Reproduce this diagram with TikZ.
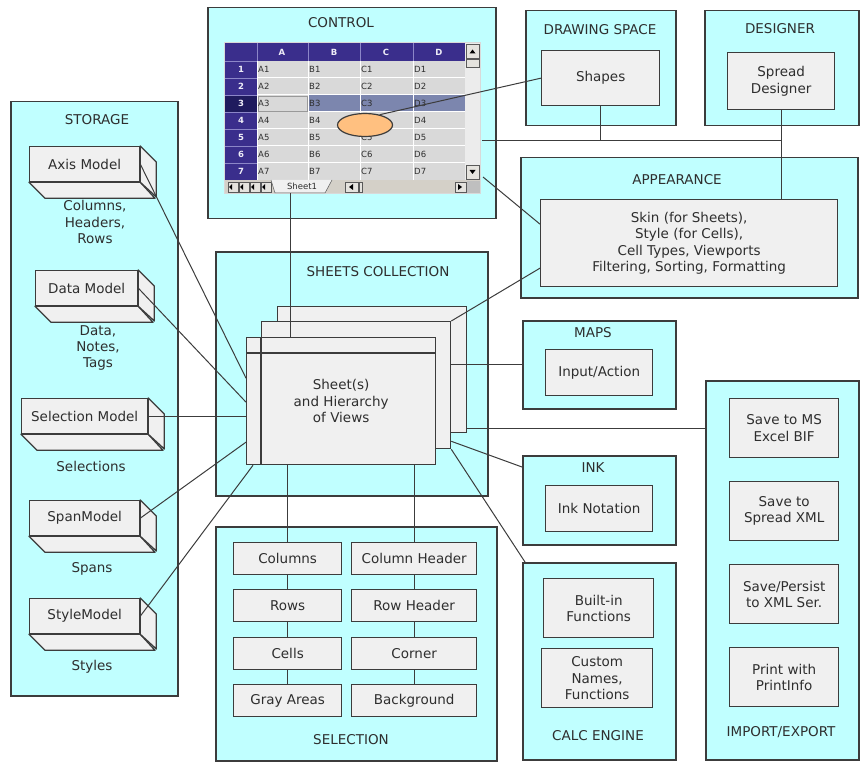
\documentclass[tikz,border=0pt]{standalone}
\usepackage{fontspec}
\setmainfont{DejaVu Sans}
\usetikzlibrary{shapes.geometric}

\definecolor{aqua}{HTML}{C0FFFF}
\definecolor{boxgray}{HTML}{F0F0F0}
\definecolor{edge}{HTML}{3C3C3C}
\definecolor{ink}{HTML}{2E2E2E}
\definecolor{hdrblue}{HTML}{3A2E8C}
\definecolor{hdrdark}{HTML}{1F1B5E}
\definecolor{hdrline}{HTML}{8C86C8}
\definecolor{cellgray}{HTML}{D9D9D9}
\definecolor{selblue}{HTML}{7C86AE}
\definecolor{tabgray}{HTML}{D4D0C8}
\definecolor{peach}{HTML}{FFC080}

\newcommand{\mainsize}{\fontsize{13.5}{16.3}\selectfont}
\newcommand{\cellsize}{\fontsize{8.5}{9}\selectfont}

% a model box with its bottom and right side
\newcommand{\modelbox}[5]{%
  \node[item, minimum width=#4, minimum height=35] (#1) at (#2,#3) {#5};
  \draw[itemside] (#1.south west) -- ++(16,16) -- ++(#4,0) -- (#1.south east) -- cycle;
  \draw[itemside] (#1.north east) -- ++(16,16) -- ++(0,35) -- (#1.south east) -- cycle;
}

\tikzset{
  panel/.style={draw=edge, line width=1.5pt, fill=aqua, anchor=north west, inner sep=0pt},
  item/.style={draw=edge, line width=1.3pt, fill=boxgray, anchor=north west,
    inner sep=0pt, align=center, text=ink, font=\mainsize},
  itemside/.style={draw=edge, line width=1.3pt, fill=boxgray, line join=round},
  sheet/.style={draw=edge, line width=1.3pt, fill=boxgray, anchor=north west,
    inner sep=0pt, align=center, text=ink, font=\mainsize},
  title/.style={text=ink, font=\mainsize},
  note/.style={text=ink, font=\mainsize, align=center},
  link/.style={draw=edge, line width=1pt},
  cell/.style={text=ink, font=\cellsize, anchor=west, inner sep=1pt},
  head/.style={text=white!85!hdrline, font=\cellsize\bfseries},
  btn/.style={draw=gray!70!black, fill=tabgray!60!white, line width=0.5pt},
  blob/.style={ellipse, draw=edge, line width=1.2pt, fill=peach,
    minimum width=55, minimum height=23},
}

\begin{document}
\begin{tikzpicture}[x=1pt, y=-1pt]
\useasboundingbox (0,0) rectangle (866,767);

% panels
\node[panel, minimum width=167, minimum height=594] (storage) at (10,101) {};
\node[panel, minimum width=288, minimum height=211] (control) at (207,7) {};
\node[panel, minimum width=150, minimum height=115] (drawing) at (525,10) {};
\node[panel, minimum width=154, minimum height=115] (designer) at (704,10) {};
\node[panel, minimum width=337, minimum height=140] (appear) at (520,157) {};
\node[panel, minimum width=272, minimum height=244] (sheets) at (215,251) {};
\node[panel, minimum width=153, minimum height=88] (maps) at (522,320) {};
\node[panel, minimum width=153, minimum height=89] (inkp) at (522,455) {};
\node[panel, minimum width=153, minimum height=197] (calc) at (522,562) {};
\node[panel, minimum width=153, minimum height=379] (io) at (705,380) {};
\node[panel, minimum width=281, minimum height=234] (selection) at (215,526) {};

\node[title] (storage-t) at (97,120) {STORAGE};
\node[title] (control-t) at (341,23) {CONTROL};
\node[title] (drawing-t) at (600,30) {DRAWING SPACE};
\node[title] (designer-t) at (780,29) {DESIGNER};
\node[title] (appear-t) at (677,180) {APPEARANCE};
\node[title] (sheets-t) at (378,272) {SHEETS COLLECTION};
\node[title] (maps-t) at (593,333) {MAPS};
\node[title] (inkp-t) at (593,468) {INK};
\node[title] (calc-t) at (598,736) {CALC ENGINE};
\node[title] (io-t) at (781,732) {IMPORT/EXPORT};
\node[title] (selection-t) at (351,740) {SELECTION};

% spreadsheet in the control
\fill[cellgray] (224,42) rectangle (481,194);
\fill[hdrblue] (225,43) rectangle (465,61);
\fill[hdrblue] (225,61) rectangle (257,180);
\fill[hdrdark] (225,95) rectangle (257,112);
\fill[selblue] (308,95) rectangle (465,112);
\foreach \x in {308,360,413}
  \draw[white, line width=1pt] (\x,61) -- (\x,180);
\draw[white, line width=1pt] (257,61) -- (257,180);
\foreach \y in {78,95,...,163}
  \draw[white, line width=1pt] (257,\y) -- (465,\y);
\foreach \x in {257,308,360,413}
  \draw[hdrline, line width=0.8pt] (\x,43) -- (\x,61);
\foreach \y in {61,78,...,163}
  \draw[hdrline, line width=0.8pt] (225,\y) -- (257,\y);
\draw[gray!80, line width=0.6pt] (258,96) rectangle (307,111);
\foreach \c/\x in {A/282,B/334,C/386,D/439}
  \node[head] at (\x,52) {\c};
\foreach \r in {1,...,7}
  \node[head] at (241,{52.5+17*\r}) {\r};
\foreach \c/\x in {A/257,B/308,C/360,D/413}
  \foreach \r in {1,...,7}
    \node[cell] at (\x,{52.5+17*\r}) {\c\r};
% scroll bars and sheet tab
\fill[gray!15] (465,43) rectangle (480,180);
\draw[btn] (466,44) rectangle (479,58);
\fill[black] (469.5,53.5) -- (475.5,53.5) -- (472.5,49.5) -- cycle;
\draw[btn] (466,59) rectangle (479,67);
\draw[btn] (466,165) rectangle (479,179);
\fill[black] (469.5,170) -- (475.5,170) -- (472.5,174) -- cycle;
\fill[tabgray] (225,180) rectangle (480,193);
\foreach \x in {228,239,250,261}
  \draw[btn] (\x,182) rectangle ++(10,10);
\foreach \x in {230,241,252,263}
  \fill[black] (\x,187) ++(2,-3) -- ++(-3,3) -- ++(3,3) -- cycle;
\filldraw[fill=boxgray, draw=gray!70!black, line width=0.5pt]
  (271,180) -- (275,193) -- (325,193) -- (332,180);
\node[cell, anchor=center] (tab) at (302,186.5) {Sheet1};
\draw[btn] (345,182) rectangle (358,192);
\fill[black] (349,187) -- (353,184) -- (353,190) -- cycle;
\draw[btn] (359,182) rectangle (362,192);
\draw[btn] (455,182) rectangle (466,192);
\fill[black] (462,187) -- (458,184) -- (458,190) -- cycle;
\fill[gray!50] (467,181) rectangle (480,193);
\node[blob] (blob) at (365,125) {};

% boxes
\node[item, minimum width=118, minimum height=55] (shapes) at (541,50) {Shapes};
\node[item, minimum width=107, minimum height=57] (sdes) at (727,52) {Spread\\Designer};
\node[item, minimum width=297, minimum height=87] (skin) at (540,199)
  {Skin (for Sheets),\\Style (for Cells),\\Cell Types, Viewports\\Filtering, Sorting, Formatting};
\node[item, minimum width=107, minimum height=46] (input) at (545,349) {Input/Action};
\node[item, minimum width=107, minimum height=46] (inkn) at (545,485) {Ink Notation};
\node[item, minimum width=110, minimum height=59] (built) at (543,578) {Built-in\\Functions};
\node[item, minimum width=111, minimum height=59] (custom) at (541,648) {Custom\\Names,\\Functions};
\node[item, minimum width=109, minimum height=59] (bif) at (729,398) {Save to MS\\Excel BIF};
\node[item, minimum width=109, minimum height=59] (sxml) at (729,481) {Save to\\Spread XML};
\node[item, minimum width=109, minimum height=59] (persist) at (729,564) {Save/Persist\\to XML Ser.};
\node[item, minimum width=109, minimum height=59] (print) at (729,647) {Print with\\PrintInfo};

\node[item, minimum width=108, minimum height=32] (cols) at (233,542) {Columns};
\node[item, minimum width=108, minimum height=32] (rows) at (233,589) {Rows};
\node[item, minimum width=108, minimum height=32] (cells) at (233,637) {Cells};
\node[item, minimum width=108, minimum height=32] (grays) at (233,684) {Gray Areas};
\node[item, minimum width=125, minimum height=32] (colh) at (351,542) {Column Header};
\node[item, minimum width=125, minimum height=32] (rowh) at (351,589) {Row Header};
\node[item, minimum width=125, minimum height=32] (corner) at (351,637) {Corner};
\node[item, minimum width=125, minimum height=32] (backg) at (351,684) {Background};

% stack of sheets
\node[sheet, minimum width=189, minimum height=126] (back) at (277,306) {};
\node[sheet, minimum width=189, minimum height=127] (mid) at (261,321) {};
\node[sheet, minimum width=189, minimum height=127] (front) at (246,337) {Sheet(s)\\and Hierarchy\\of Views};
\draw[link, line width=1.3pt] (front.north west) ++(0,16) -- ++(189,0);
\draw[link, line width=1.3pt] (mid.west |- front.north) -- (mid.west |- front.south);

% storage models
\modelbox{axis}{29}{146}{110}{Axis Model}
\modelbox{data}{35}{270}{102}{Data Model}
\modelbox{selm}{21}{398}{126}{Selection Model}
\modelbox{span}{29}{500}{110}{SpanModel}
\modelbox{style}{29}{598}{110}{StyleModel}

\node[note] (axis-l) at (95,222) {Columns,\\Headers,\\Rows};
\node[note] (data-l) at (98,348) {Data,\\Notes,\\Tags};
\node[note] (selm-l) at (91,466) {Selections};
\node[note] (span-l) at (92,569) {Spans};
\node[note] (style-l) at (92,667) {Styles};

% connectors
\coordinate (ctl-a) at (482,141);
\coordinate (ctl-b) at (290,193);
\coordinate (ctl-c) at (483,177);
\coordinate (io-in) at (705,428);

\draw[link] (blob.35) -- (shapes.west);
\draw[link] (ctl-a) -- (ctl-a -| sdes.south);
\draw[link] (shapes.south) -- (shapes.south |- ctl-a);
\draw[link] (sdes.south) -- (sdes.south |- skin.north);
\draw[link] (ctl-c) -- ([yshift=19pt]skin.west);
\draw[link] (mid.north east) -- ([yshift=-25pt]skin.west);
\draw[link] (ctl-b) -- (ctl-b |- front.north);

\draw[link] (axis.east) -- ([yshift=23pt]front.west);
\draw[link] (data.east) -- ([yshift=-1pt]front.west);
\draw[link] (selm.east) -- (selm.east -| front.west);
\draw[link] (span.east) -- ([yshift=-41pt]front.west);
\draw[link] (style.east) -- ([xshift=7pt]front.south west);

\draw[link] (maps.west -| mid.east) -- (maps.west);
\draw[link] (io-in -| back.east) -- (io-in);
\draw[link] ([yshift=8pt]mid.south east) -- ([yshift=-12pt]inkp.north west);
\draw[link] (mid.south east) -- ([xshift=3pt]calc.north west);

\draw[link] (cols.north |- front.south) -- (cols.north);
\draw[link] (colh.north |- front.south) -- (colh.north);
\draw[link] (cols.south) -- (rows.north);
\draw[link] (rows.south) -- (cells.north);
\draw[link] (cells.south) -- (grays.north);
\draw[link] (colh.south) -- (rowh.north);
\draw[link] (rowh.south) -- (corner.north);
\draw[link] (corner.south) -- (backg.north);
\end{tikzpicture}
\end{document}
